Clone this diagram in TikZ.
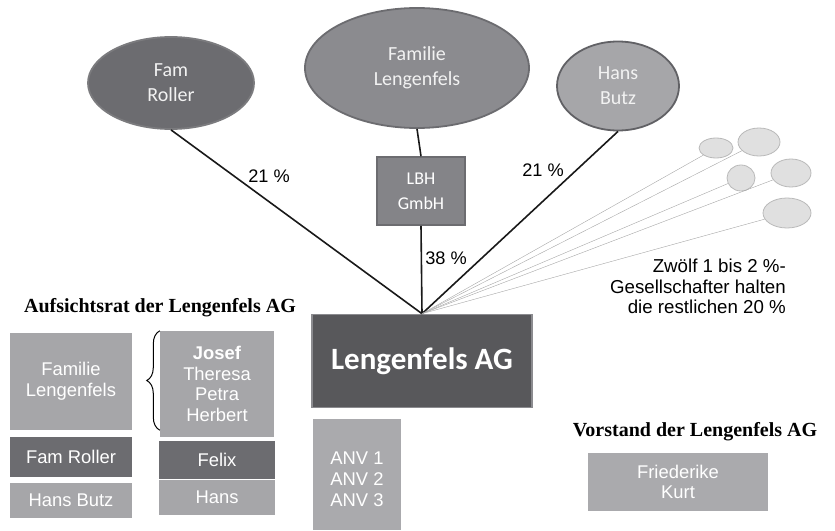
\documentclass[tikz,border=0pt]{standalone}
\usepackage{fontspec}
\setmainfont{Liberation Sans}
\newfontfamily\calfont{Carlito}
\newfontfamily\headfont{Liberation Serif}
\usetikzlibrary{shapes.geometric, positioning, decorations.pathreplacing}
\definecolor{grdark}{HTML}{6C6C70}
\definecolor{grmid}{HTML}{8B8B8F}
\definecolor{grlight}{HTML}{A6A6A9}
\definecolor{grag}{HTML}{58585B}
\definecolor{grpale}{HTML}{E0E0E0}

\begin{document}
\begin{tikzpicture}[x=1pt, y=-1pt,
    owner/.style={ellipse, inner sep=0pt, line width=1.8pt, text=white!95!black, align=center,
      font=\calfont\fontsize{20}{25}\selectfont},
    minor/.style={ellipse, inner sep=0pt, draw=gray!55, fill=grpale, line width=0.8pt},
    box/.style={rectangle, inner sep=0pt, fill=grlight, text=white, align=center,
      font=\fontsize{18.4}{20.8}\selectfont},
    pct/.style={font=\fontsize{18.2}{20}\selectfont},
    heading/.style={font=\headfont\bfseries\fontsize{20}{22}\selectfont},
    share/.style={line width=1.6pt, black!90},
    small share/.style={line width=0.4pt, gray!70}]
  \useasboundingbox (0,0) rectangle (835,530);
  % owners
  \node[owner, fill=grdark, draw=grdark!90!white, minimum width=166, minimum height=92] (roller) at (171,83) {Fam\\Roller};
  \node[owner, fill=grmid, draw=grdark, minimum width=224, minimum height=120] (family) at (417,68) {Familie\\Lengenfels};
  \node[owner, fill=grlight, draw=grdark!90!black, minimum width=122, minimum height=89] (butz) at (618,86) {Hans\\Butz};
  \node[rectangle, inner sep=0pt, fill=grmid!95!black, draw=grdark, line width=1.6pt, text=white, align=center,
    minimum width=88, minimum height=68, font=\calfont\fontsize{18}{25}\selectfont] (lbh) at (421,191) {LBH\\GmbH};
  \node[rectangle, inner sep=0pt, fill=grag, draw=grmid, line width=1.6pt, text=white,
    minimum width=220, minimum height=93, font=\calfont\bfseries\fontsize{31}{32}\selectfont] (ag) at (422,361) {Lengenfels AG};
  % small shareholders
  \node[minor, minimum width=34, minimum height=20] (s1) at (716,148) {};
  \node[minor, minimum width=42, minimum height=28] (s2) at (759,142) {};
  \node[minor, minimum width=28, minimum height=26] (s3) at (741,178) {};
  \node[minor, minimum width=40, minimum height=28] (s4) at (791,173) {};
  \node[minor, minimum width=48, minimum height=30] (s5) at (787,213) {};
  % shares
  \draw[share] (roller.south) -- (ag.north);
  \draw[share] (butz.south) -- (ag.north);
  \draw[share] (family.south) -- (lbh.north);
  \draw[share] (lbh.south) -- (ag.north);
  \foreach \s in {s1,s2,s3,s4,s5}
    \draw[small share] (ag.north) -- (\s);
  \node[pct] (p1) at (269,176) {21 \%};
  \node[pct] (p2) at (543,170) {21 \%};
  \node[pct] (p3) at (446,258) {38 \%};
  \node[align=right, anchor=north east, inner sep=0pt, font=\fontsize{18.7}{20.5}\selectfont] (rest) at (786,259)
    {Zwölf 1 bis 2 \%-\\Gesellschafter halten\\die restlichen 20 \%};
  % Aufsichtsrat
  \node[heading] (arhead) at (160,308) {Aufsichtsrat der Lengenfels AG};
  \node[box, minimum width=122, minimum height=97] (arfam) at (71,381.5) {Familie\\Lengenfels};
  \node[box, fill=grdark, minimum width=122, minimum height=40] (arroller) at (71,457) {Fam Roller};
  \node[box, minimum width=122, minimum height=35] (arbutz) at (71,500.5) {Hans Butz};
  \node[box, minimum width=114, minimum height=106] (josef) at (217,384) {\textbf{Josef}\\Theresa\\Petra\\Herbert};
  \node[box, fill=grdark, minimum width=116, minimum height=38] (felix) at (217,460) {Felix};
  \node[box, minimum width=116, minimum height=35] (hans) at (217,497.5) {Hans};
  \draw[line width=1pt, decorate, decoration={brace, amplitude=13pt}]
    ([yshift=7pt]josef.south west) -- (josef.north west);
  % Arbeitnehmervertreter
  \node[box, fill=grlight!95!white, minimum width=88, minimum height=111] (anv) at (357,474.5) {};
  \node[box, fill=none] (anvtext) at ([yshift=-5pt]anv.center) {ANV 1\\ANV 2\\ANV 3};
  % Vorstand
  \node[heading] (vshead) at (695,432) {Vorstand der Lengenfels AG};
  \node[box, fill=grlight!95!white, minimum width=180, minimum height=58] (vs) at (678,482) {Friederike\\Kurt};
\end{tikzpicture}
\end{document}
